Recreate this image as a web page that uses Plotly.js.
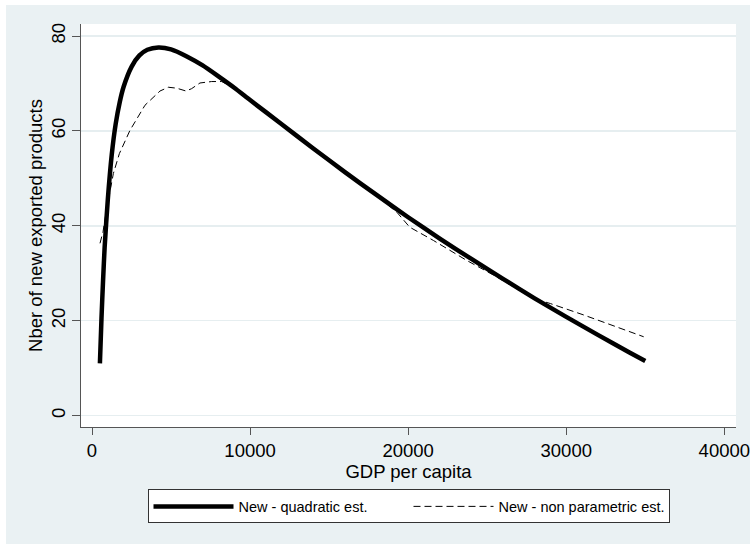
<!DOCTYPE html>
<html>
<head>
<meta charset="utf-8">
<script src="https://cdn.plot.ly/plotly-3.0.1.min.js"></script>
<style>
  html, body { margin: 0; padding: 0; background: #ffffff; }
  #chart { position: absolute; left: 6px; top: 5px; width: 744px; height: 539px; }
</style>
</head>
<body>
<div id="chart"></div>
<script>
// GDP per capita (x) and number of new exported products (y)
var quadX = [500, 600, 700, 800, 1000, 1250, 1500, 1750, 2000, 2500, 3000, 3500, 4200, 5000, 6000, 7000, 8000, 9000, 10000, 12000, 14000, 16000, 18000, 20000, 22000, 24000, 26000, 28000, 30000, 32000, 34000, 35000];
var quadY = [11.0, 20.5, 28.5, 35.5, 45.5, 55.0, 61.5, 66.0, 69.3, 73.5, 75.9, 77.1, 77.6, 77.2, 75.7, 73.8, 71.5, 69.1, 66.5, 61.4, 56.3, 51.3, 46.5, 41.8, 37.3, 33.0, 28.8, 24.7, 20.8, 17.0, 13.3, 11.5];

var npX = [506, 700, 900, 1200, 1350, 1730, 2400, 3350, 3780, 4300, 4830, 5360, 5950, 6300, 6830, 7570, 8200, 8420, 9000, 10000, 12000, 14000, 16000, 18000, 19300, 20100, 21600, 23700, 25400, 27900, 29000, 31100, 33200, 34900];
var npY = [36.3, 38.8, 43.0, 48.9, 51.0, 55.2, 60.1, 65.4, 66.8, 68.4, 69.2, 69.0, 68.4, 68.9, 70.1, 70.4, 70.4, 70.0, 69.0, 66.4, 61.3, 56.2, 51.2, 46.4, 42.8, 39.7, 36.9, 32.7, 29.6, 24.7, 23.6, 21.2, 18.7, 16.6];

var xTicks = [0, 10000, 20000, 30000, 40000];
var yTicks = [0, 20, 40, 60, 80];

var bg = '#EAF1F3';
var font = 'Liberation Sans, Arial, sans-serif';

var traces = [
  {
    x: quadX, y: quadY, type: 'scatter', mode: 'lines',
    name: 'New - quadratic est.',
    line: {color: '#000000', width: 4.5, shape: 'spline', smoothing: 0.6}
  },
  {
    x: npX, y: npY, type: 'scatter', mode: 'lines',
    name: 'New - non parametric est.',
    line: {color: '#000000', width: 1, dash: '7px,4px'}
  }
];

var layout = {
  width: 744, height: 539,
  paper_bgcolor: bg,
  plot_bgcolor: '#ffffff',
  margin: {l: 75, r: 14, t: 19, b: 117},
  font: {family: font, size: 18.5, color: '#000000'},
  showlegend: true,
  legend: {
    orientation: 'h',
    x: 0.5, xanchor: 'center',
    y: -0.155, yanchor: 'top',
    bgcolor: '#ffffff',
    bordercolor: '#333333',
    borderwidth: 1,
    font: {family: font, size: 14.5, color: '#000000'},
    itemwidth: 80,
    entrywidth: 165,
    traceorder: 'normal'
  },
  xaxis: {
    range: [-696, 40739],
    tickvals: xTicks,
    ticktext: xTicks.map(String),
    ticklabeloverflow: 'allow',
    showgrid: false,
    zeroline: false,
    showline: true, linecolor: '#555555', linewidth: 1,
    ticks: 'outside', ticklen: 7, tickcolor: '#555555', tickwidth: 1,
    tickfont: {family: font, size: 18.5, color: '#000000'},
    title: {text: 'GDP per capita', font: {family: font, size: 18.5, color: '#000000'}, standoff: 2}
  },
  yaxis: {
    range: [-2.42, 82.53],
    tickvals: yTicks,
    ticktext: yTicks.map(String),
    tickangle: -90,
    showgrid: true, gridcolor: '#E6EEF0', gridwidth: 1.5,
    zeroline: false,
    showline: true, linecolor: '#555555', linewidth: 1,
    ticks: 'outside', ticklen: 8, tickcolor: '#555555', tickwidth: 1,
    tickfont: {family: font, size: 18.5, color: '#000000'},
    title: {text: 'Nber of new exported products', font: {family: font, size: 18.5, color: '#000000'}, standoff: 0}
  }
};

Plotly.newPlot('chart', traces, layout, {displayModeBar: false, staticPlot: true});
</script>
</body>
</html>
